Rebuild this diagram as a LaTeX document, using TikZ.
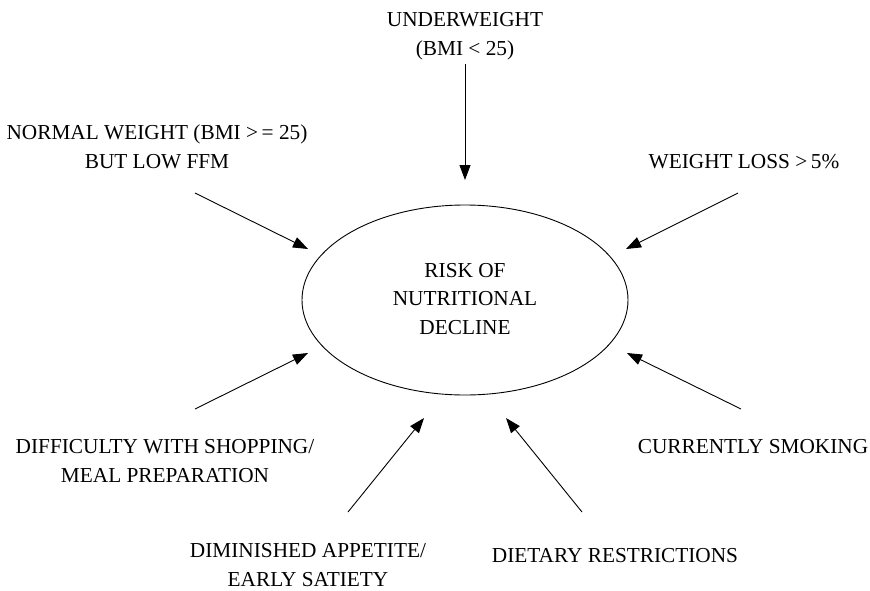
\documentclass[tikz,border=0pt]{standalone}
\usepackage{fontspec}
\setmainfont{Liberation Serif}
\usetikzlibrary{arrows.meta,shapes.geometric}
\tikzset{
  lbl/.style={align=center, inner sep=0pt, font=\fontsize{21.3}{28.5}\selectfont},
  factor/.style={draw=black, line width=0.9pt, -{Triangle[length=15pt,width=11pt]}},
  hub/.style={draw=black, line width=0.9pt, ellipse, minimum width=326pt, minimum height=190pt, inner sep=0pt}
}
\begin{document}
\begin{tikzpicture}[x=1pt,y=-1pt]
\useasboundingbox (0,0) rectangle (870,590);
\fill[white] (0,0) rectangle (870,590);

% central ellipse and its label
\node[hub] (risk) at (465,300) {};
\node[lbl] (risktxt) at (465,299) {RISK OF\\NUTRITIONAL\\DECLINE};

% surrounding factors
\node[lbl] (under)  at (465,36)  {UNDERWEIGHT\\(BMI < 25)};
\node[lbl] (normal) at (157,147) {NORMAL WEIGHT (BMI >\,= 25)\\BUT LOW FFM};
\node[lbl] (loss)   at (744,162) {WEIGHT LOSS >\,5\%};
\node[lbl] (shop)   at (165,461) {DIFFICULTY WITH SHOPPING/\\MEAL PREPARATION};
\node[lbl] (smoke)  at (753,447) {CURRENTLY SMOKING};
\node[lbl] (appet)  at (308,565) {DIMINISHED APPETITE/\\EARLY SATIETY};
\node[lbl] (diet)   at (615,556) {DIETARY RESTRICTIONS};

% arrow end points
\coordinate (a1) at (465,64);  \coordinate (b1) at (465,180);
\coordinate (a2) at (195,193); \coordinate (b2) at (308,249);
\coordinate (a3) at (738,193); \coordinate (b3) at (626,249);
\coordinate (a4) at (195,409); \coordinate (b4) at (308,353);
\coordinate (a5) at (741,409); \coordinate (b5) at (627,353);
\coordinate (a6) at (348,512); \coordinate (b6) at (424,418);
\coordinate (a7) at (582,512); \coordinate (b7) at (506,418);

\draw[factor] (a1) -- (b1);
\draw[factor] (a2) -- (b2);
\draw[factor] (a3) -- (b3);
\draw[factor] (a4) -- (b4);
\draw[factor] (a5) -- (b5);
\draw[factor] (a6) -- (b6);
\draw[factor] (a7) -- (b7);
\end{tikzpicture}
\end{document}
